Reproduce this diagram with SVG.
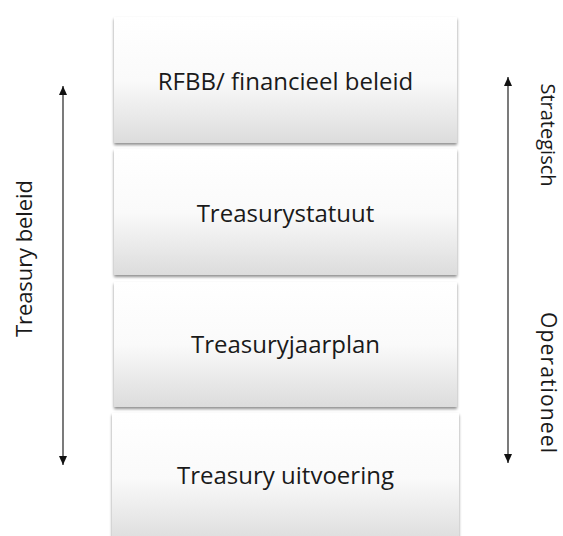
<svg xmlns="http://www.w3.org/2000/svg" width="563" height="536" viewBox="0 0 563 536">
<style>
.box{fill:url(#g);filter:url(#sh);}
.lbl{font-family:"Open Sans","Liberation Sans",sans-serif;font-size:24px;fill:#1a1a1a;text-anchor:middle;}
.side{font-family:"Open Sans","Liberation Sans",sans-serif;font-size:22px;fill:#1a1a1a;text-anchor:middle;}
.rside{font-family:"Open Sans","Liberation Sans",sans-serif;font-size:21px;fill:#1a1a1a;text-anchor:middle;}
.arr{stroke:#333333;stroke-width:1.3;fill:none;marker-start:url(#ah);marker-end:url(#ah);}
</style>
<defs>
<linearGradient id="g" x1="0" y1="0" x2="0" y2="1">
<stop offset="0" stop-color="#ffffff"/>
<stop offset="0.5" stop-color="#fafafa"/>
<stop offset="1" stop-color="#dcdcdc"/>
</linearGradient>
<filter id="sh" x="-5%" y="-5%" width="110%" height="115%">
<feGaussianBlur in="SourceAlpha" stdDeviation="1.5"/>
<feOffset dx="0" dy="2" result="b"/>
<feComponentTransfer><feFuncA type="linear" slope="0.45"/></feComponentTransfer>
<feMerge><feMergeNode/><feMergeNode in="SourceGraphic"/></feMerge>
</filter>
<marker id="ah" viewBox="0 0 9 8" refX="9" refY="4" markerWidth="9" markerHeight="8" markerUnits="userSpaceOnUse" orient="auto-start-reverse">
<path d="M0,0 L9,4 L0,8 Z" fill="#111111"/>
</marker>
</defs>
<g id="n1"><rect class="box" x="114" y="17" width="343" height="126"/><text class="lbl" x="285.5" y="90">RFBB/ financieel beleid</text></g>
<g id="n2"><rect class="box" x="114" y="149" width="343" height="126"/><text class="lbl" x="285.5" y="222">Treasurystatuut</text></g>
<g id="n3"><rect class="box" x="114" y="282" width="343" height="125"/><text class="lbl" x="285.5" y="353">Treasuryjaarplan</text></g>
<g id="n4"><rect class="box" x="112" y="413" width="347" height="130"/><text class="lbl" x="285.5" y="484">Treasury uitvoering</text></g>
<g id="connectors">
<line class="arr" x1="63" y1="86" x2="63" y2="465"/>
<line class="arr" x1="508" y1="77" x2="508" y2="463"/>
</g>
<g id="side-labels">
<text class="side" transform="translate(32,258.5) rotate(-90)" textLength="157">Treasury beleid</text>
<text class="rside" style="font-size:20px" transform="translate(541,135) rotate(90)">Strategisch</text>
<text class="rside" transform="translate(541,382.5) rotate(90)" textLength="141">Operationeel</text>
</g>
</svg>
